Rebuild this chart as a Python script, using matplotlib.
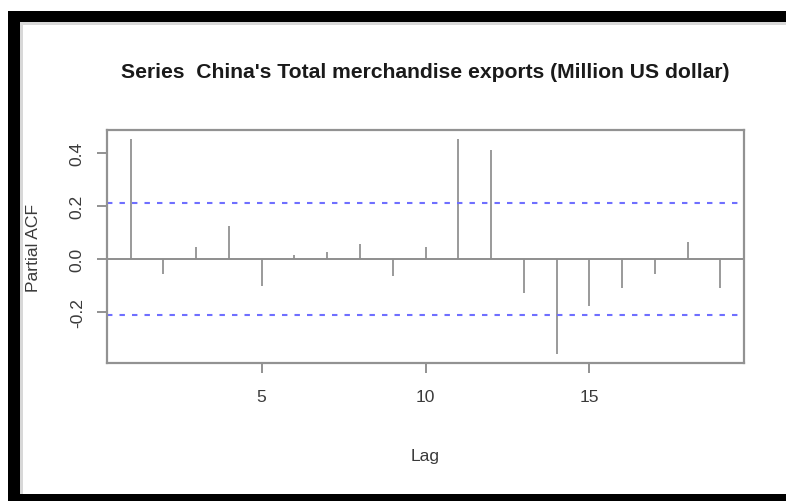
import matplotlib
matplotlib.use("Agg")
import matplotlib.pyplot as plt
from matplotlib import font_manager
from matplotlib.patches import Rectangle

# Partial autocorrelation by lag
lags = [1, 2, 3, 4, 5, 6, 7, 8, 9, 10, 11, 12, 13, 14, 15, 16, 17, 18, 19]
pacf_vals = [0.453, -0.054, 0.044, 0.126, -0.100, 0.015, 0.028, 0.057, -0.065,
             0.044, 0.450, 0.412, -0.126, -0.358, -0.176, -0.107, -0.054,
             0.063, -0.107]
conf_limit = 0.21

x_ticks = [5, 10, 15]
y_ticks = [-0.2, 0.0, 0.2, 0.4]
y_tick_labels = ["-0.2", "0.0", "0.2", "0.4"]

title_text = "Series  China's Total merchandise exports (Million US dollar)"
x_label = "Lag"
y_label = "Partial ACF"

installed = {f.name for f in font_manager.fontManager.ttflist}
if "Liberation Sans Narrow" in installed:
    family = ["Liberation Sans Narrow", "DejaVu Sans"]
    title_size, label_size = 18.5, 15.2
else:
    family = ["Liberation Sans", "DejaVu Sans"]
    title_size, label_size = 15.2, 12.6
plt.rcParams["font.family"] = family

W, H = 786, 502
fig = plt.figure(figsize=(W / 100, H / 100), dpi=100)
fig.patch.set_facecolor("white")


def px_rect(x0, y0, x1, y1, color):
    # rectangle given in pixel coordinates measured from the top-left corner
    fig.patches.append(Rectangle((x0 / W, 1 - y1 / H), (x1 - x0) / W, (y1 - y0) / H,
                                 transform=fig.transFigure, facecolor=color,
                                 edgecolor="none", zorder=5))


# black frame around the plot window
px_rect(20, 23, W, 26, "#d8d8d8")
px_rect(20, 23, 23, 495, "#d8d8d8")
px_rect(8, 12, W, 23, "black")
px_rect(8, 12, 20, H, "black")
px_rect(8, 495, W, H, "black")

ax_l, ax_r, ax_t, ax_b = 107, 744, 131, 364
ax = fig.add_axes([ax_l / W, 1 - ax_b / H, (ax_r - ax_l) / W, (ax_b - ax_t) / H])

bar_color = "#9a9a9a"
ax.vlines(lags, 0, pacf_vals, colors=bar_color, linewidth=1.4)
ax.axhline(0, color="#8e8e8e", linewidth=1.4)
for lim in (conf_limit, -conf_limit):
    ax.axhline(lim, color="#6f6fff", linewidth=1.5, linestyle=(0, (2.6, 3.4)))

lo = min(min(pacf_vals), -conf_limit)
hi = max(max(pacf_vals), conf_limit)
pad = 0.04 * (hi - lo)
ax.set_ylim(lo - pad, hi + pad)
xpad = 0.04 * (max(lags) - min(lags))
ax.set_xlim(min(lags) - xpad, max(lags) + xpad)

ax.set_xticks(x_ticks)
ax.set_xticklabels([str(t) for t in x_ticks])
ax.set_yticks(y_ticks)
ax.set_yticklabels(y_tick_labels, rotation=90, va="center")

for s in ax.spines.values():
    s.set_color("#929292")
    s.set_linewidth(1.6)
ax.tick_params(axis="both", colors="#929292", width=1.4, length=7,
               labelcolor="#3a3a3a", labelsize=label_size)
ax.tick_params(axis="x", pad=12)
ax.tick_params(axis="y", pad=9)

fig.text((ax_l + ax_r) / 2 / W, 1 - 72 / H, title_text, ha="center", va="center",
         fontsize=title_size, fontweight="bold", color="#1a1a1a")
fig.text(425 / W, 1 - 457 / H, x_label, ha="center", va="center",
         fontsize=label_size, color="#3a3a3a")
fig.text(33 / W, 1 - 248 / H, y_label, ha="center", va="center", rotation=90,
         fontsize=label_size, color="#3a3a3a")

fig.savefig("out.png", dpi=100, facecolor="white")
